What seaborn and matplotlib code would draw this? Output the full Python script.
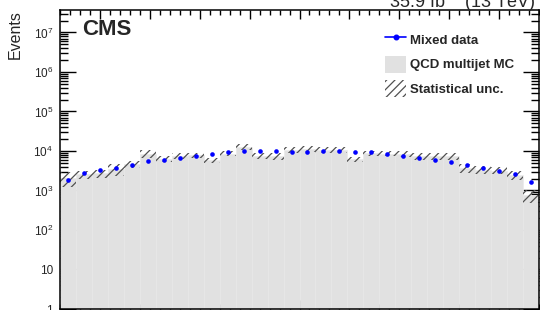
import numpy as np
import pandas as pd
import matplotlib

matplotlib.use("Agg")
import matplotlib.pyplot as plt
import seaborn as sns
from matplotlib.lines import Line2D
from matplotlib.patches import Patch
from matplotlib.ticker import FuncFormatter, LogLocator, MultipleLocator

# 30 equal-width bins (axis labels are outside the visible area)
bin_edges = np.linspace(-4, 44, 31)

data_counts = [1810, 2820, 3250, 3720, 4500, 5490, 5920, 6650, 7470, 8550,
               9270, 9820, 10000, 10000, 9440, 9440, 10000, 10000, 9600, 9270,
               8550, 7470, 6650, 5920, 5360, 4500, 3720, 3060, 2620, 1670]
mc_counts = [2100, 2560, 2690, 3490, 4700, 8530, 6300, 7640, 7840, 5810,
             8580, 12900, 7640, 7460, 10650, 11150, 10760, 10760, 6160, 8760,
             8580, 8380, 7460, 7460, 7460, 3630, 3330, 3200, 2440, 760]
mc_stat = [840, 560, 620, 1200, 990, 1880, 1040, 1260, 1070, 840,
           1240, 2130, 1260, 1440, 1750, 1990, 1860, 1860, 890, 1420,
           1240, 1450, 1440, 1440, 1440, 930, 720, 630, 590, 270]

lumi_text = "35.9 fb$^{-1}$ (13 TeV)"


def log_label(v, pos):
    e = int(round(np.log10(v)))
    if e == 0:
        return "1"
    if e == 1:
        return "10"
    return f"$10^{{{e}}}$"


def build_frame():
    centers = 0.5 * (bin_edges[:-1] + bin_edges[1:])
    df = pd.DataFrame({
        "center": centers,
        "data": data_counts,
        "mc": mc_counts,
        "stat": mc_stat,
    })
    df["lo"] = df["mc"] - df["stat"]
    return df


def plot(df):
    sns.set_theme(style="ticks")
    plt.rcParams["font.family"] = ["Liberation Sans", "DejaVu Sans"]
    plt.rcParams["mathtext.fontset"] = "custom"
    plt.rcParams["mathtext.rm"] = "Liberation Sans"
    plt.rcParams["mathtext.default"] = "regular"
    plt.rcParams["hatch.linewidth"] = 0.9

    fig = plt.figure(figsize=(5.4, 3.1), dpi=100)
    ax = fig.add_axes([60 / 540, 1 / 310, 479 / 540, 299 / 310])
    ax.set_yscale("log")

    sns.histplot(data=df, x="center", weights="mc", bins=len(df),
                 binrange=(bin_edges[0], bin_edges[-1]),
                 element="bars", color="#e1e1e1", alpha=1,
                 edgecolor="#e8e8e8", linewidth=0.4, ax=ax, zorder=1)
    width = bin_edges[1] - bin_edges[0]
    ax.bar(df["center"], 2 * df["stat"], bottom=df["lo"], width=width,
           fill=False, hatch="////", edgecolor="#505050", linewidth=0, zorder=2)
    sns.scatterplot(data=df, x="center", y="data", color="#0000ff", s=11,
                    linewidth=0, ax=ax, zorder=5)

    ax.set_xlim(bin_edges[0], bin_edges[-1])
    ax.set_ylim(1, 3.7e7)
    ax.set_xlabel("")
    ax.set_ylabel("Events", loc="top", fontsize=11.5)
    ax.yaxis.set_label_coords(-0.077, 1.0)

    ax.xaxis.set_major_locator(MultipleLocator(5))
    ax.xaxis.set_minor_locator(MultipleLocator(1))
    ax.yaxis.set_major_locator(LogLocator(base=10, numticks=20))
    ax.yaxis.set_minor_locator(LogLocator(base=10, subs=np.arange(2, 10), numticks=20))
    ax.yaxis.set_major_formatter(FuncFormatter(log_label))
    ax.tick_params(axis="both", which="both", direction="in", top=True,
                   right=True, labelbottom=False, color="black", width=1.0)
    ax.tick_params(axis="x", which="major", length=6.5)
    ax.tick_params(axis="x", which="minor", length=3.3)
    ax.tick_params(axis="y", which="major", length=11.5, labelsize=8.5, pad=5)
    ax.tick_params(axis="y", which="minor", length=5.8)
    for s in ax.spines.values():
        s.set_linewidth(1.1)
        s.set_color("black")

    fig.text(82 / 540, 1 - 19 / 310, "CMS", fontsize=16, fontweight="bold",
             va="top", ha="left")
    fig.text(535 / 540, 1 - 7.5 / 310, lumi_text, fontsize=13,
             ha="right", va="baseline")

    handles = [
        Line2D([], [], color="#0000ff", marker="o", markersize=3.3, lw=1.2),
        Patch(facecolor="#e1e1e1", edgecolor="none"),
        Patch(facecolor="none", edgecolor="#505050", hatch="////", linewidth=0),
    ]
    labels = ["Mixed data", "QCD multijet MC", "Statistical unc."]
    fig.legend(handles, labels, loc="upper left",
               bbox_to_anchor=(385 / 540, 1 - 31 / 310), frameon=False,
               borderpad=0, borderaxespad=0, handlelength=1.6,
               handleheight=1.6, handletextpad=0.3, labelspacing=0.58,
               prop={"weight": "bold", "size": 9.5})

    fig.savefig("out.png", dpi=100)


if __name__ == "__main__":
    plot(build_frame())
